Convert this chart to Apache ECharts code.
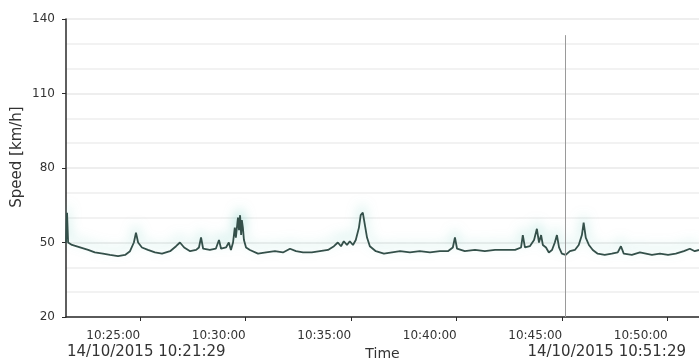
<!DOCTYPE html>
<html>
<head>
<meta charset="utf-8">
<script src="https://cdn.jsdelivr.net/npm/echarts@6/dist/echarts.min.js"></script>
<style>
  html, body { margin: 0; padding: 0; background: #ffffff; }
  #chart { width: 699px; height: 362px; }
</style>
</head>
<body>
<div id="chart"></div>
<script>
// Recorded speed samples, 14/10/2015 10:21:29 - 10:51:29
const sampleTimes = [
  '10:21:29','10:21:32','10:21:35','10:21:46','10:22:09','10:22:32','10:22:51','10:23:14','10:23:34','10:23:57',
  '10:24:17','10:24:31','10:24:42','10:24:48','10:24:54','10:25:05','10:25:22','10:25:42','10:26:02','10:26:25',
  '10:26:42','10:26:53','10:27:05','10:27:22','10:27:39','10:27:47','10:27:53','10:27:59','10:28:18','10:28:35',
  '10:28:44','10:28:50','10:29:04','10:29:12','10:29:18','10:29:24','10:29:29','10:29:32','10:29:38','10:29:41',
  '10:29:44','10:29:47','10:29:49','10:29:52','10:29:55','10:30:01','10:30:12','10:30:35','10:30:58','10:31:23',
  '10:31:46','10:32:06','10:32:23','10:32:43','10:33:08','10:33:31','10:33:54','10:34:11','10:34:22','10:34:31',
  '10:34:39','10:34:48','10:34:56','10:35:05','10:35:13','10:35:22','10:35:27','10:35:33','10:35:39','10:35:45',
  '10:35:53','10:36:10','10:36:33','10:36:56','10:37:19','10:37:47','10:38:15','10:38:44','10:39:12','10:39:35',
  '10:39:49','10:39:55','10:40:01','10:40:23','10:40:52','10:41:20','10:41:49','10:42:17','10:42:46','10:43:03',
  '10:43:08','10:43:14','10:43:28','10:43:40','10:43:48','10:43:54','10:44:00','10:44:05','10:44:14','10:44:22',
  '10:44:31','10:44:39','10:44:45','10:44:51','10:44:59','10:45:10','10:45:22','10:45:36','10:45:47','10:45:56',
  '10:46:01','10:46:07','10:46:16','10:46:27','10:46:41','10:47:01','10:47:21','10:47:38','10:47:47','10:47:55',
  '10:48:18','10:48:41','10:48:58','10:49:15','10:49:38','10:50:01','10:50:23','10:50:46','10:51:03','10:51:17',
  '10:51:29'
];
const speedKmh = [
  50, 62, 50, 49, 48, 47, 46, 45.5, 45, 44.5,
  45, 46.5, 50, 54, 50, 48, 47, 46, 45.5, 46.5,
  48.5, 50, 48, 46.5, 47, 48, 52, 47.5, 47, 47.5,
  51, 47.5, 48, 50, 47, 50, 56, 52, 60, 55,
  61, 53, 59, 56, 51, 48, 47, 45.5, 46, 46.5,
  46, 47.5, 46.5, 46, 46, 46.5, 47, 48.5, 50, 48.5,
  50.5, 49, 50.5, 49, 51, 56, 61, 62, 57, 52,
  48.5, 46.5, 45.5, 46, 46.5, 46, 46.5, 46, 46.5, 46.5,
  48, 52, 47.5, 46.5, 47, 46.5, 47, 47, 47, 48,
  53, 48, 48.5, 51, 55.5, 50, 53, 49, 48, 46,
  47, 50, 53, 48, 45.5, 45, 46.5, 47, 49, 53,
  58, 52, 49, 47, 45.5, 45, 45.5, 46, 48.5, 45.5,
  45, 46, 45.5, 45, 45.5, 45, 45.5, 46.5, 47.5, 46.5,
  47
];

// Axis range and labels
const timeStart = '10:21:29';
const timeEnd = '10:51:29';
const dateStartLabel = '14/10/2015 10:21:29';
const dateEndLabel = '14/10/2015 10:51:29';
const xTickTimes = ['10:25:00', '10:30:00', '10:35:00', '10:40:00', '10:45:00', '10:50:00'];
const yMin = 20, yMax = 140, yStep = 30;
const cursorTime = '10:45:09';
const cursorSpan = [133.5, 20];

function toSec(hms) {
  const p = hms.split(':').map(Number);
  return p[0] * 3600 + p[1] * 60 + p[2];
}
function pad(n) { return (n < 10 ? '0' : '') + n; }
function fmtSec(s) {
  s = Math.round(s);
  return pad(Math.floor(s / 3600)) + ':' + pad(Math.floor(s / 60) % 60) + ':' + pad(s % 60);
}

const seriesData = sampleTimes.map((t, i) => [toSec(t), speedKmh[i]]);
const xTicks = xTickTimes.map(toSec);
const cursorX = toSec(cursorTime);

const chart = echarts.init(document.getElementById('chart'), null, { renderer: 'canvas' });

const FONT = 'DejaVu Sans';

chart.setOption({
  animation: false,
  backgroundColor: '#ffffff',
  grid: { left: 66, right: 0, top: 19, bottom: 45, containLabel: false, outerBoundsMode: 'none' },
  xAxis: {
    type: 'value',
    min: toSec(timeStart),
    max: toSec(timeEnd),
    name: 'Time',
    nameLocation: 'middle',
    nameGap: 30,
    nameTextStyle: { fontFamily: FONT, fontSize: 14, color: '#333' },
    axisLine: { show: true, lineStyle: { color: '#2a2a2a', width: 1.5 } },
    axisTick: { show: true, length: 4, customValues: xTicks, lineStyle: { color: '#2a2a2a' } },
    axisLabel: {
      customValues: xTicks,
      align: 'right',
      margin: 13,
      fontFamily: FONT,
      fontSize: 12,
      color: '#333',
      formatter: (v) => fmtSec(v)
    },
    splitLine: { show: false }
  },
  yAxis: {
    type: 'value',
    min: yMin,
    max: yMax,
    interval: yStep,
    axisLine: { show: true, lineStyle: { color: '#2a2a2a', width: 1.5 } },
    axisTick: { show: true, length: 4, lineStyle: { color: '#2a2a2a' } },
    axisLabel: { fontFamily: FONT, fontSize: 12, color: '#333', margin: 11 },
    splitLine: { show: true, lineStyle: { color: '#e9e9e9', width: 1.5 } },
    minorTick: { show: false, splitNumber: 3 },
    minorSplitLine: { show: true, lineStyle: { color: '#eeeeee', width: 1.5 } }
  },
  graphic: [
    {
      type: 'text', left: 67, top: 345,
      style: { text: dateStartLabel, font: '15px "DejaVu Sans"', fill: '#333' }
    },
    {
      type: 'text', right: 13, top: 345,
      style: { text: dateEndLabel, font: '15px "DejaVu Sans"', fill: '#333' }
    },
    {
      type: 'text', x: 17, y: 157, rotation: Math.PI / 2,
      style: { text: 'Speed [km/h]', font: '15px "DejaVu Sans"', fill: '#333', align: 'center', verticalAlign: 'middle' }
    }
  ],
  series: [
    {
      type: 'line',
      data: seriesData,
      showSymbol: false,
      symbol: 'none',
      lineStyle: {
        color: '#34504a',
        width: 1.8,
        shadowColor: 'rgba(100,200,185,0.6)',
        shadowBlur: 12,
        shadowOffsetY: -6
      },
      markLine: {
        silent: true,
        symbol: 'none',
        label: { show: false },
        lineStyle: { color: '#9a9a9a', width: 1, type: 'solid' },
        data: [[{ coord: [cursorX, cursorSpan[0]] }, { coord: [cursorX, cursorSpan[1]] }]]
      }
    }
  ]
});
</script>
</body>
</html>
